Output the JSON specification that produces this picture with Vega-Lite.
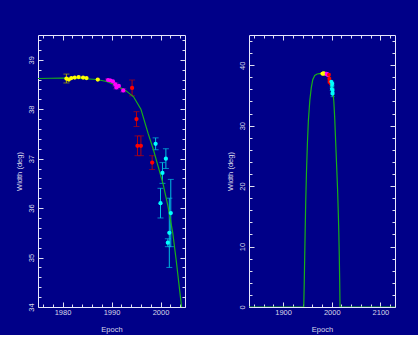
{
  "$schema": "https://vega.github.io/schema/vega-lite/v6.json",
  "padding": {"left": 14, "top": 34, "right": 23, "bottom": 1},
  "datasets": {
    "curve": [
      {"year": 1830, "w": 0}, {"year": 1942.5, "w": 0}, {"year": 1943.5, "w": 4}, {"year": 1944.5, "w": 8.4},
      {"year": 1945.5, "w": 13}, {"year": 1946.5, "w": 17.2}, {"year": 1948, "w": 22}, {"year": 1950, "w": 27},
      {"year": 1952, "w": 30.8}, {"year": 1955, "w": 34.2}, {"year": 1958, "w": 36.3}, {"year": 1961, "w": 37.6},
      {"year": 1965, "w": 38.3}, {"year": 1970, "w": 38.55}, {"year": 1975, "w": 38.62}, {"year": 1980, "w": 38.63},
      {"year": 1984, "w": 38.62}, {"year": 1987, "w": 38.6}, {"year": 1989, "w": 38.56}, {"year": 1991, "w": 38.48},
      {"year": 1993, "w": 38.37}, {"year": 1994.5, "w": 38.25}, {"year": 1996, "w": 38.0}, {"year": 1997.5, "w": 37.5},
      {"year": 1998.5, "w": 37.2}, {"year": 1999.5, "w": 36.85}, {"year": 2000.5, "w": 36.5}, {"year": 2001.5, "w": 36.05},
      {"year": 2002.5, "w": 35.5}, {"year": 2003.2, "w": 34.95}, {"year": 2004.3, "w": 34.0}, {"year": 2006, "w": 31.5},
      {"year": 2008, "w": 27.5}, {"year": 2010, "w": 23.5}, {"year": 2012, "w": 19.5}, {"year": 2013.5, "w": 15.5},
      {"year": 2014.5, "w": 12.5}, {"year": 2015.5, "w": 8.5}, {"year": 2016.3, "w": 4.5}, {"year": 2017, "w": 0},
      {"year": 2130, "w": 0}
    ],
    "pts": [
      {"year": 1980.8, "w": 38.62, "err": 0.09, "s": "Y"},
      {"year": 1981.3, "w": 38.6, "err": 0, "s": "Y"},
      {"year": 1981.8, "w": 38.63, "err": 0, "s": "Y"},
      {"year": 1982.5, "w": 38.64, "err": 0, "s": "Y"},
      {"year": 1983.3, "w": 38.65, "err": 0, "s": "Y"},
      {"year": 1984.2, "w": 38.64, "err": 0, "s": "Y"},
      {"year": 1984.9, "w": 38.63, "err": 0, "s": "Y"},
      {"year": 1987.2, "w": 38.6, "err": 0, "s": "Y"},
      {"year": 1989.3, "w": 38.59, "err": 0.02, "s": "M"},
      {"year": 1989.8, "w": 38.58, "err": 0, "s": "M"},
      {"year": 1990.3, "w": 38.56, "err": 0, "s": "M"},
      {"year": 1990.8, "w": 38.5, "err": 0.03, "s": "M"},
      {"year": 1991.0, "w": 38.44, "err": 0.03, "s": "M"},
      {"year": 1991.5, "w": 38.47, "err": 0, "s": "M"},
      {"year": 1992.4, "w": 38.38, "err": 0.03, "s": "M"},
      {"year": 1994.2, "w": 38.43, "err": 0.16, "s": "R"},
      {"year": 1995.1, "w": 37.8, "err": 0.15, "s": "R"},
      {"year": 1995.3, "w": 37.26, "err": 0.2, "s": "R"},
      {"year": 1996.0, "w": 37.26, "err": 0.2, "s": "R"},
      {"year": 1998.3, "w": 36.92, "err": 0.14, "s": "R"},
      {"year": 1999.0, "w": 37.3, "err": 0.12, "s": "C"},
      {"year": 2001.1, "w": 37.0, "err": 0.2, "s": "C"},
      {"year": 2000.4, "w": 36.71, "err": 0.21, "s": "C"},
      {"year": 2000.0, "w": 36.1, "err": 0.3, "s": "C"},
      {"year": 2002.1, "w": 35.9, "err": 0.68, "s": "C"},
      {"year": 2001.8, "w": 35.5, "err": 0.7, "s": "C"},
      {"year": 2001.5, "w": 35.3, "err": 0.08, "s": "C"}
    ]
  },
  "hconcat": [
    {
      "width": 147,
      "height": 272,
      "layer": [
        {
          "data": {"name": "pts"},
          "transform": [{"filter": "datum.err > 0"}],
          "mark": {"type": "errorbar", "ticks": {"size": 6}, "thickness": 1},
          "encoding": {
            "x": {"field": "year", "type": "quantitative", "axis": null},
            "y": {"field": "w", "type": "quantitative", "axis": null},
            "yError": {"field": "err"},
            "color": {"field": "s", "type": "nominal", "legend": null,
              "scale": {"domain": ["Y", "M", "R", "C"], "range": ["#a8a800", "#b000b0", "#b00010", "#00c0e0"]}}
          }
        },
        {
          "data": {"name": "curve"},
          "mark": {"type": "line", "color": "#18b018", "strokeWidth": 1.2, "clip": true},
          "encoding": {
            "x": {"field": "year", "type": "quantitative",
              "scale": {"domain": [1975, 2005], "nice": false, "zero": false},
              "axis": {"orient": "bottom", "title": "Epoch", "titlePadding": 8,
                "values": [1976,1978,1980,1982,1984,1986,1988,1990,1992,1994,1996,1998,2000,2002,2004],
                "tickSize": {"condition": {"test": "datum.value % 10 === 0", "value": -5}, "value": -3},
                "labelExpr": "datum.value % 10 === 0 ? datum.label : ''", "labelPadding": 6, "labelOverlap": false, "format": "d"}},
            "y": {"field": "w", "type": "quantitative",
              "scale": {"domain": [34, 39.5], "nice": false, "zero": false},
              "axis": {"orient": "left", "title": "Width (deg)", "titlePadding": 2,
                "values": [34,34.2,34.4,34.6,34.8,35,35.2,35.4,35.6,35.8,36,36.2,36.4,36.6,36.8,37,37.2,37.4,37.6,37.8,38,38.2,38.4,38.6,38.8,39,39.2,39.4],
                "tickSize": {"condition": {"test": "abs(datum.value - round(datum.value)) < 0.001", "value": -5}, "value": -3},
                "labelExpr": "abs(datum.value - round(datum.value)) < 0.001 ? format(datum.value, 'd') : ''",
                "labelAngle": 270, "labelAlign": "center", "labelBaseline": "bottom", "labelPadding": 8, "labelOverlap": false}}
          }
        },
        {
          "data": {"name": "pts"},
          "mark": {"type": "circle", "size": 18, "opacity": 1},
          "encoding": {
            "x": {"field": "year", "type": "quantitative",
              "axis": {"orient": "top", "title": null, "labels": false,
                "values": [1976,1978,1980,1982,1984,1986,1988,1990,1992,1994,1996,1998,2000,2002,2004],
                "tickSize": {"condition": {"test": "datum.value % 10 === 0", "value": -5}, "value": -3}}},
            "y": {"field": "w", "type": "quantitative",
              "axis": {"orient": "right", "title": null, "labels": false,
                "values": [34,34.2,34.4,34.6,34.8,35,35.2,35.4,35.6,35.8,36,36.2,36.4,36.6,36.8,37,37.2,37.4,37.6,37.8,38,38.2,38.4,38.6,38.8,39,39.2,39.4],
                "tickSize": {"condition": {"test": "abs(datum.value - round(datum.value)) < 0.001", "value": -5}, "value": -3}}},
            "color": {"field": "s", "type": "nominal", "legend": null,
              "scale": {"domain": ["Y", "M", "R", "C"], "range": ["#ffff00", "#ff00ff", "#ff0000", "#00ffff"]}}
          }
        }
      ],
      "resolve": {"axis": {"x": "independent", "y": "independent"}, "scale": {"color": "independent"}}
    },
    {
      "width": 146,
      "height": 272,
      "layer": [
        {
          "data": {"name": "pts"},
          "transform": [{"filter": "datum.err > 0"}],
          "mark": {"type": "errorbar", "ticks": {"size": 4}, "thickness": 1},
          "encoding": {
            "x": {"field": "year", "type": "quantitative", "axis": null},
            "y": {"field": "w", "type": "quantitative", "axis": null},
            "yError": {"field": "err"},
            "color": {"field": "s", "type": "nominal", "legend": null,
              "scale": {"domain": ["Y", "M", "R", "C"], "range": ["#a8a800", "#b000b0", "#b00010", "#00c0e0"]}}
          }
        },
        {
          "data": {"name": "curve"},
          "mark": {"type": "line", "color": "#18b018", "strokeWidth": 1.2, "clip": true},
          "encoding": {
            "x": {"field": "year", "type": "quantitative",
              "scale": {"domain": [1830, 2130], "nice": false, "zero": false},
              "axis": {"orient": "bottom", "title": "Epoch", "titlePadding": 8,
                "values": [1840,1860,1880,1900,1920,1940,1960,1980,2000,2020,2040,2060,2080,2100,2120],
                "tickSize": {"condition": {"test": "datum.value % 100 === 0", "value": -5}, "value": -3},
                "labelExpr": "datum.value % 100 === 0 ? datum.label : ''", "labelPadding": 6, "labelOverlap": false, "format": "d"}},
            "y": {"field": "w", "type": "quantitative",
              "scale": {"domain": [0, 45], "nice": false},
              "axis": {"orient": "left", "title": "Width (deg)", "titlePadding": 2,
                "values": [0,2,4,6,8,10,12,14,16,18,20,22,24,26,28,30,32,34,36,38,40,42,44],
                "tickSize": {"condition": {"test": "datum.value % 10 === 0", "value": -5}, "value": -3},
                "labelExpr": "datum.value % 10 === 0 ? datum.label : ''",
                "labelAngle": 270, "labelAlign": "center", "labelBaseline": "bottom", "labelPadding": 8, "labelOverlap": false, "format": "d"}}
          }
        },
        {
          "data": {"name": "pts"},
          "mark": {"type": "circle", "size": 14, "opacity": 1},
          "encoding": {
            "x": {"field": "year", "type": "quantitative",
              "axis": {"orient": "top", "title": null, "labels": false,
                "values": [1840,1860,1880,1900,1920,1940,1960,1980,2000,2020,2040,2060,2080,2100,2120],
                "tickSize": {"condition": {"test": "datum.value % 100 === 0", "value": -5}, "value": -3}}},
            "y": {"field": "w", "type": "quantitative",
              "axis": {"orient": "right", "title": null, "labels": false,
                "values": [0,2,4,6,8,10,12,14,16,18,20,22,24,26,28,30,32,34,36,38,40,42,44],
                "tickSize": {"condition": {"test": "datum.value % 10 === 0", "value": -5}, "value": -3}}},
            "color": {"field": "s", "type": "nominal", "legend": null,
              "scale": {"domain": ["Y", "M", "R", "C"], "range": ["#ffff00", "#ff00ff", "#ff0000", "#00ffff"]}}
          }
        }
      ],
      "resolve": {"axis": {"x": "independent", "y": "independent"}, "scale": {"color": "independent"}}
    }
  ],
  "spacing": 39,
  "config": {
    "background": "#000088",
    "view": {"stroke": "#e8e8ff", "strokeWidth": 1},
    "axis": {"domain": false, "grid": false, "tickColor": "#e0e0f0", "tickWidth": 1,
      "labelColor": "#d8d8e8", "titleColor": "#d8d8e8", "labelFont": "Liberation Sans", "titleFont": "Liberation Sans",
      "labelFontSize": 7.5, "titleFontSize": 7.5, "titleFontWeight": "normal"}
  }
}
